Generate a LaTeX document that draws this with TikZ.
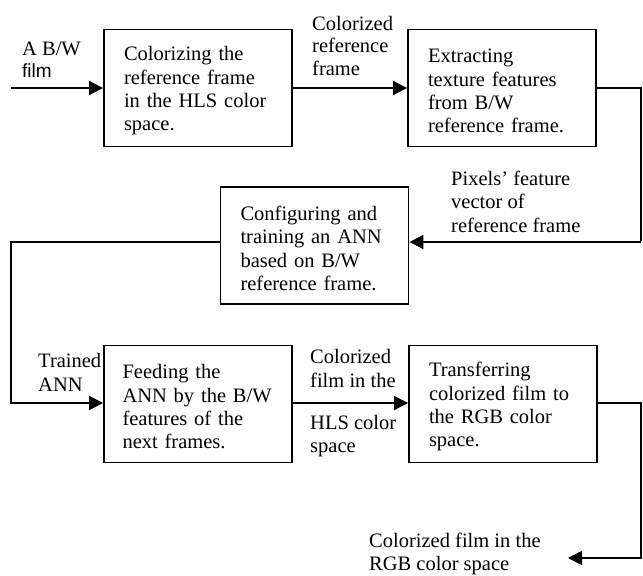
\documentclass[tikz,border=0pt]{standalone}
\usepackage{fontspec}
\setmainfont{Liberation Serif}
\setsansfont{Liberation Sans}
\usetikzlibrary{arrows.meta}
\newcommand{\toppad}{\rule{0pt}{20pt}}
\begin{document}
\begin{tikzpicture}[x=1pt,y=-1pt,
  every node/.style={font=\fontsize{20.5}{23.3}\selectfont},
  procbox/.style={draw,line width=1.9pt,minimum width=188pt,minimum height=117pt,
    inner xsep=20pt,text width=148pt,align=left},
  lbl/.style={anchor=base west,inner sep=0pt,align=left},
  conn/.style={line width=1.9pt},
  arr/.style={conn,-{Triangle[length=14pt,width=14pt]}}]
\useasboundingbox (0,0) rectangle (643,576);
% boxes
\node[procbox] (b1) at (198,88) {\toppad Colorizing the\\reference frame\\in the HLS color\\space.};
\node[procbox] (b2) at (502,88) {\toppad Extracting\\texture features\\from B/W\\reference frame.};
\node[procbox] (b3) at (314.5,245.5) {\toppad Configuring and\\training an ANN\\based on B/W\\reference frame.};
\node[procbox,inner xsep=18.5pt,text width=151pt] (b4) at (198,404) {\toppad Feeding the\\\mbox{ANN by the B/W}\\features of the\\next frames.};
\node[procbox] (b5) at (503,404) {\toppad Transferring\\colorized film to\\the RGB color\\space.};
% coordinates
\coordinate (in0) at (11,88);
\coordinate (r1) at (641,88);
\coordinate (r2) at (641,242);
\coordinate (l1) at (11,242);
\coordinate (l2) at (11,403);
\coordinate (r3) at (641,403);
\coordinate (r4) at (641,558);
\coordinate (out) at (568,558);
% connectors
\draw[arr] (in0) -- (b1.west);
\draw[arr] (b1.east) -- (b2.west);
\draw[conn] (b2.east) -- (r1) -- ([yshift=0.95pt]r2);
\draw[arr] (r2) -- (r2 -| b3.east);
\draw[arr] (b3.west |- l1) -- (l1) -- (l2) -- (l2 -| b4.west);
\draw[arr] (l2 -| b4.east) -- (l2 -| b5.west);
\draw[arr] (l2 -| b5.east) -- (r3) -- (r4) -- (out);
% labels
\node[lbl] (tA) at (22,55) {A B/W};
\node[lbl,font=\sffamily\fontsize{19}{20}\selectfont] (tFilm) at (22,77) {film};
\node[lbl] (tC1) at (312,75) {Colorized\\[-1pt]reference\\[-1pt]frame};
\node[lbl] (tP) at (451,232) {Pixels’ feature\\vector of\\reference frame};
\node[lbl] (tT) at (38,391) {Trained\\ANN};
\node[lbl] (tC2) at (310,387) {Colorized\\film in the};
\node[lbl] (tH) at (310,452) {HLS color\\[-1pt]space};
\node[lbl] (tR) at (369,570) {Colorized film in the\\[-1pt]RGB color space};
\end{tikzpicture}
\end{document}
